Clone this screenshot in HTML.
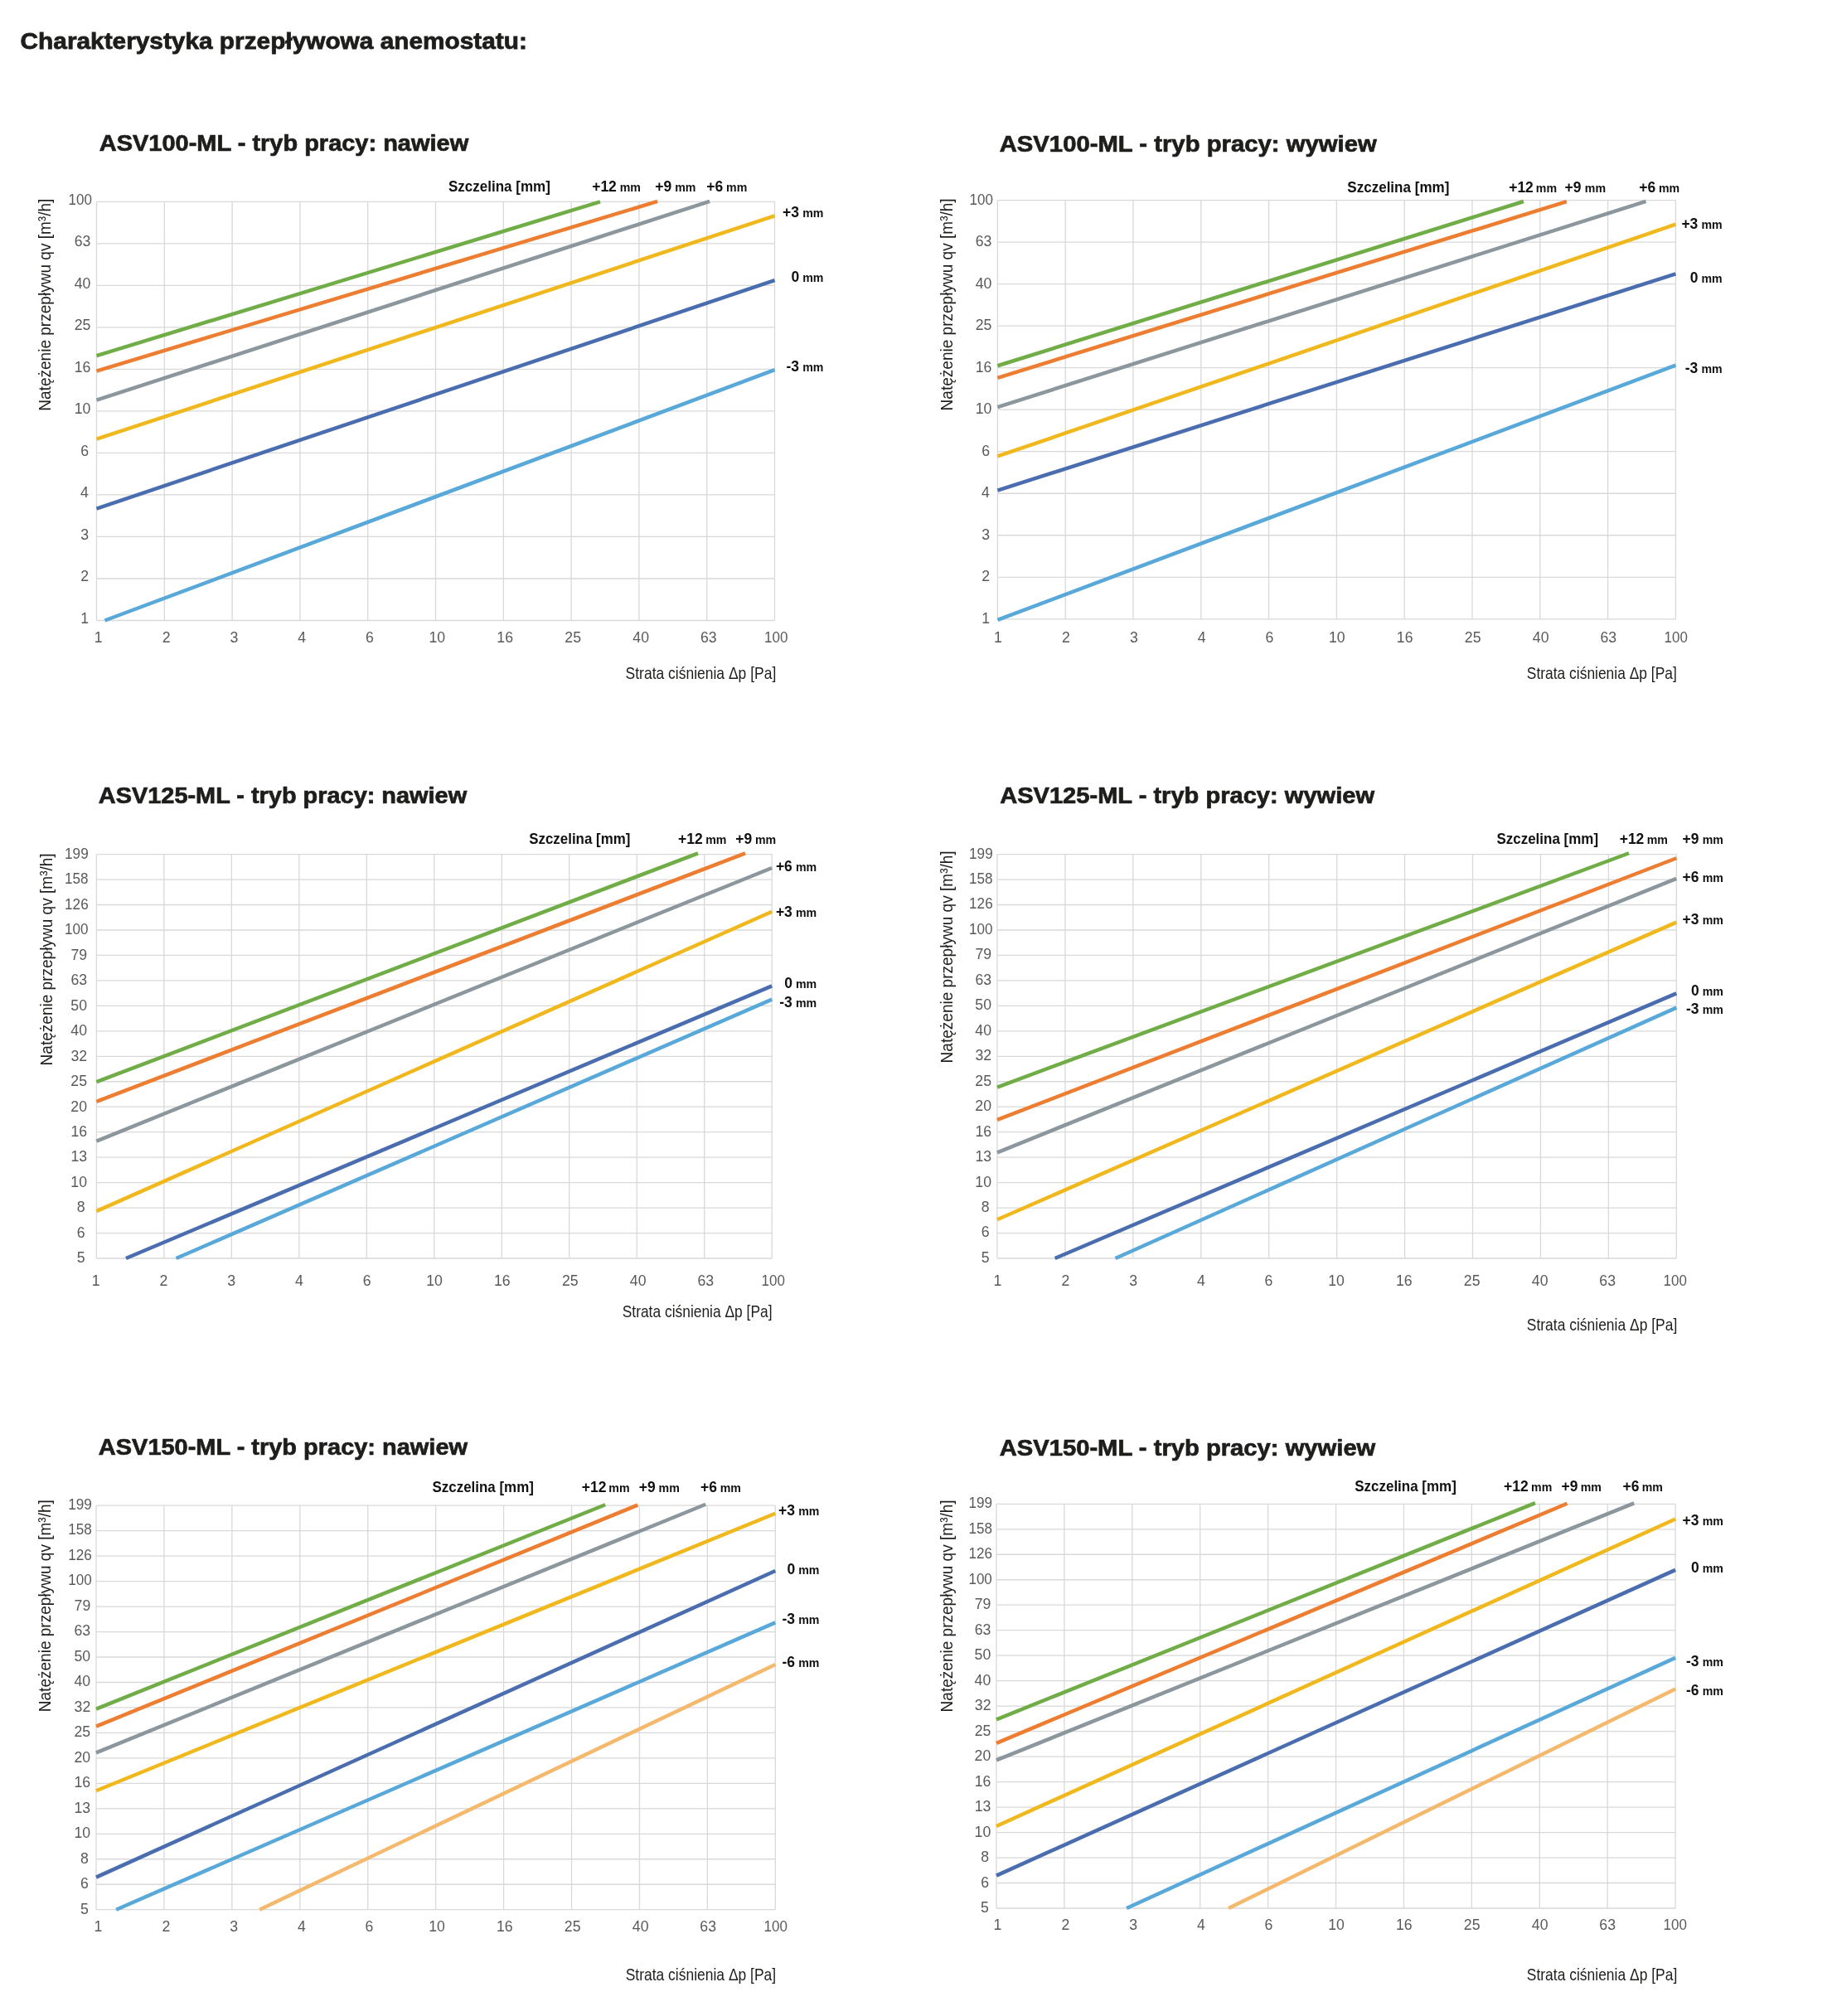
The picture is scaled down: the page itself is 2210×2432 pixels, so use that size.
<!DOCTYPE html><html><head><meta charset="utf-8"><title>Charakterystyka przepływowa anemostatu</title>
<style>html,body{margin:0;padding:0;background:#fff}body{width:2210px;height:2432px;overflow:hidden}svg{display:block;will-change:transform}text{font-family:'Liberation Sans', sans-serif}</style></head><body>
<svg xmlns="http://www.w3.org/2000/svg" width="2210" height="2432" viewBox="0 0 2210 2432">
<rect width="2210" height="2432" fill="#fff"/>
<text x="24.58" y="58.5" font-size="28.4" font-weight="bold" fill="#1d1d1b" textLength="611.29" lengthAdjust="spacingAndGlyphs" stroke="#1d1d1b" stroke-width="0.8">Charakterystyka przepływowa anemostatu:</text>
<path d="M116.5 243.3V748.5M198.3 243.3V748.5M280.1 243.3V748.5M361.9 243.3V748.5M443.7 243.3V748.5M525.5 243.3V748.5M607.3 243.3V748.5M689.1 243.3V748.5M770.9 243.3V748.5M852.7 243.3V748.5M934.5 243.3V748.5M116.5 243.3H934.5M116.5 293.82H934.5M116.5 344.34H934.5M116.5 394.86H934.5M116.5 445.38H934.5M116.5 495.9H934.5M116.5 546.42H934.5M116.5 596.94H934.5M116.5 647.46H934.5M116.5 697.98H934.5M116.5 748.5H934.5" stroke="#d9d9d9" stroke-width="1.3" fill="none"/>
<text x="82.5" y="246.8" font-size="17.7" fill="#595959" textLength="28.47" lengthAdjust="spacingAndGlyphs">100</text>
<text x="89.79" y="297.32" font-size="17.7" fill="#595959">63</text>
<text x="89.7" y="347.84" font-size="17.7" fill="#595959">40</text>
<text x="89.76" y="398.36" font-size="17.7" fill="#595959">25</text>
<text x="89.79" y="448.88" font-size="17.7" fill="#595959">16</text>
<text x="89.7" y="499.4" font-size="17.7" fill="#595959">10</text>
<text x="97.23" y="549.92" font-size="17.7" fill="#595959">6</text>
<text x="96.97" y="600.44" font-size="17.7" fill="#595959">4</text>
<text x="97.23" y="650.96" font-size="17.7" fill="#595959">3</text>
<text x="97.35" y="701.48" font-size="17.7" fill="#595959">2</text>
<text x="97.32" y="752" font-size="17.7" fill="#595959">1</text>
<text x="113.64" y="775.1" font-size="17.7" fill="#595959">1</text>
<text x="195.66" y="775.1" font-size="17.7" fill="#595959">2</text>
<text x="277.49" y="775.1" font-size="17.7" fill="#595959">3</text>
<text x="359.27" y="775.1" font-size="17.7" fill="#595959">4</text>
<text x="440.94" y="775.1" font-size="17.7" fill="#595959">6</text>
<text x="517.53" y="775.1" font-size="17.7" fill="#595959">10</text>
<text x="599.35" y="775.1" font-size="17.7" fill="#595959">16</text>
<text x="681.34" y="775.1" font-size="17.7" fill="#595959">25</text>
<text x="763.34" y="775.1" font-size="17.7" fill="#595959">40</text>
<text x="844.92" y="775.1" font-size="17.7" fill="#595959">63</text>
<text x="922.11" y="775.1" font-size="17.7" fill="#595959" textLength="28.36" lengthAdjust="spacingAndGlyphs">100</text>
<line x1="126.43" y1="748.5" x2="934.5" y2="446.23" stroke="#58a8da" stroke-width="4.5"/>
<line x1="116.5" y1="613.53" x2="934.5" y2="338.12" stroke="#4a6db0" stroke-width="4.5"/>
<line x1="116.5" y1="529.72" x2="934.5" y2="260.43" stroke="#f1b81e" stroke-width="4.5"/>
<line x1="116.5" y1="482.62" x2="856.1" y2="242.82" stroke="#8c969d" stroke-width="4.5"/>
<line x1="116.5" y1="447.6" x2="793.1" y2="242.95" stroke="#ed7d31" stroke-width="4.5"/>
<line x1="116.5" y1="429.09" x2="724" y2="243.29" stroke="#70ad47" stroke-width="4.5"/>
<text x="119.78" y="182.4" font-size="27.3" font-weight="bold" fill="#1d1d1b" textLength="445.46" lengthAdjust="spacingAndGlyphs" stroke="#1d1d1b" stroke-width="0.7">ASV100-ML - tryb pracy: nawiew</text>
<text x="541.01" y="231.1" font-size="17.9" font-weight="bold" fill="#111111" textLength="122.84" lengthAdjust="spacingAndGlyphs">Szczelina [mm]</text>
<text x="714.17" y="231" font-size="17.5" font-weight="bold" fill="#111111">+12</text>
<text x="747.67" y="231" font-size="15.3" font-weight="bold" fill="#111111" textLength="25.21" lengthAdjust="spacingAndGlyphs">mm</text>
<text x="790.37" y="231" font-size="17.5" font-weight="bold" fill="#111111">+9</text>
<text x="814.17" y="231" font-size="15.3" font-weight="bold" fill="#111111" textLength="25.21" lengthAdjust="spacingAndGlyphs">mm</text>
<text x="852.27" y="231" font-size="17.5" font-weight="bold" fill="#111111">+6</text>
<text x="876.07" y="231" font-size="15.3" font-weight="bold" fill="#111111" textLength="25.21" lengthAdjust="spacingAndGlyphs">mm</text>
<text x="944.08" y="262.2" font-size="17.5" font-weight="bold" fill="#111111">+3</text>
<text x="968.17" y="262.2" font-size="15.3" font-weight="bold" fill="#111111" textLength="25.21" lengthAdjust="spacingAndGlyphs">mm</text>
<text x="954.39" y="339.7" font-size="17.5" font-weight="bold" fill="#111111">0</text>
<text x="968.17" y="339.7" font-size="15.3" font-weight="bold" fill="#111111" textLength="25.21" lengthAdjust="spacingAndGlyphs">mm</text>
<text x="948.47" y="447.7" font-size="17.5" font-weight="bold" fill="#111111">-3</text>
<text x="968.17" y="447.7" font-size="15.3" font-weight="bold" fill="#111111" textLength="25.21" lengthAdjust="spacingAndGlyphs">mm</text>
<text transform="translate(61 494.2) rotate(-90)" x="-1.56" y="0" font-size="21" fill="#1d1d1b" textLength="256.12" lengthAdjust="spacingAndGlyphs">Natężenie przepływu qv [m³/h]</text>
<text x="754.61" y="819" font-size="19.8" fill="#1d1d1b" textLength="181.64" lengthAdjust="spacingAndGlyphs">Strata ciśnienia Δp [Pa]</text>
<path d="M1203.4 241.6V746.8M1285.2 241.6V746.8M1367 241.6V746.8M1448.8 241.6V746.8M1530.6 241.6V746.8M1612.4 241.6V746.8M1694.2 241.6V746.8M1776 241.6V746.8M1857.8 241.6V746.8M1939.6 241.6V746.8M2021.4 241.6V746.8M1203.4 241.6H2021.4M1203.4 292.12H2021.4M1203.4 342.64H2021.4M1203.4 393.16H2021.4M1203.4 443.68H2021.4M1203.4 494.2H2021.4M1203.4 544.72H2021.4M1203.4 595.24H2021.4M1203.4 645.76H2021.4M1203.4 696.28H2021.4M1203.4 746.8H2021.4" stroke="#d9d9d9" stroke-width="1.3" fill="none"/>
<text x="1169.5" y="246.5" font-size="17.7" fill="#595959" textLength="28.47" lengthAdjust="spacingAndGlyphs">100</text>
<text x="1176.79" y="297.02" font-size="17.7" fill="#595959">63</text>
<text x="1176.7" y="347.54" font-size="17.7" fill="#595959">40</text>
<text x="1176.76" y="398.06" font-size="17.7" fill="#595959">25</text>
<text x="1176.79" y="448.58" font-size="17.7" fill="#595959">16</text>
<text x="1176.7" y="499.1" font-size="17.7" fill="#595959">10</text>
<text x="1184.23" y="549.62" font-size="17.7" fill="#595959">6</text>
<text x="1183.97" y="600.14" font-size="17.7" fill="#595959">4</text>
<text x="1184.23" y="650.66" font-size="17.7" fill="#595959">3</text>
<text x="1184.35" y="701.18" font-size="17.7" fill="#595959">2</text>
<text x="1184.32" y="751.7" font-size="17.7" fill="#595959">1</text>
<text x="1199.04" y="775" font-size="17.7" fill="#595959">1</text>
<text x="1281.07" y="775" font-size="17.7" fill="#595959">2</text>
<text x="1362.91" y="775" font-size="17.7" fill="#595959">3</text>
<text x="1444.7" y="775" font-size="17.7" fill="#595959">4</text>
<text x="1526.38" y="775" font-size="17.7" fill="#595959">6</text>
<text x="1602.98" y="775" font-size="17.7" fill="#595959">10</text>
<text x="1684.81" y="775" font-size="17.7" fill="#595959">16</text>
<text x="1766.81" y="775" font-size="17.7" fill="#595959">25</text>
<text x="1848.82" y="775" font-size="17.7" fill="#595959">40</text>
<text x="1930.41" y="775" font-size="17.7" fill="#595959">63</text>
<text x="2007.61" y="775" font-size="17.7" fill="#595959" textLength="28.36" lengthAdjust="spacingAndGlyphs">100</text>
<line x1="1203.4" y1="747.94" x2="2021.4" y2="440.68" stroke="#58a8da" stroke-width="4.5"/>
<line x1="1203.4" y1="591.56" x2="2021.4" y2="330.48" stroke="#4a6db0" stroke-width="4.5"/>
<line x1="1203.4" y1="550.48" x2="2021.4" y2="270.58" stroke="#f1b81e" stroke-width="4.5"/>
<line x1="1203.4" y1="491.04" x2="1985.5" y2="242.91" stroke="#8c969d" stroke-width="4.5"/>
<line x1="1203.4" y1="455.79" x2="1889.9" y2="243.12" stroke="#ed7d31" stroke-width="4.5"/>
<line x1="1203.4" y1="441.24" x2="1837.9" y2="243.02" stroke="#70ad47" stroke-width="4.5"/>
<text x="1205.67" y="182.8" font-size="27.3" font-weight="bold" fill="#1d1d1b" textLength="455.07" lengthAdjust="spacingAndGlyphs" stroke="#1d1d1b" stroke-width="0.7">ASV100-ML - tryb pracy: wywiew</text>
<text x="1625.31" y="232.4" font-size="17.9" font-weight="bold" fill="#111111" textLength="123.05" lengthAdjust="spacingAndGlyphs">Szczelina [mm]</text>
<text x="1820.17" y="232.4" font-size="17.5" font-weight="bold" fill="#111111">+12</text>
<text x="1852.87" y="232.4" font-size="15.3" font-weight="bold" fill="#111111" textLength="25.21" lengthAdjust="spacingAndGlyphs">mm</text>
<text x="1887.47" y="232.4" font-size="17.5" font-weight="bold" fill="#111111">+9</text>
<text x="1911.87" y="232.4" font-size="15.3" font-weight="bold" fill="#111111" textLength="25.21" lengthAdjust="spacingAndGlyphs">mm</text>
<text x="1977.37" y="232.4" font-size="17.5" font-weight="bold" fill="#111111">+6</text>
<text x="2000.97" y="232.4" font-size="15.3" font-weight="bold" fill="#111111" textLength="25.21" lengthAdjust="spacingAndGlyphs">mm</text>
<text x="2028.38" y="275.5" font-size="17.5" font-weight="bold" fill="#111111">+3</text>
<text x="2052.47" y="275.5" font-size="15.3" font-weight="bold" fill="#111111" textLength="25.21" lengthAdjust="spacingAndGlyphs">mm</text>
<text x="2038.69" y="340.8" font-size="17.5" font-weight="bold" fill="#111111">0</text>
<text x="2052.47" y="340.8" font-size="15.3" font-weight="bold" fill="#111111" textLength="25.21" lengthAdjust="spacingAndGlyphs">mm</text>
<text x="2032.77" y="449.6" font-size="17.5" font-weight="bold" fill="#111111">-3</text>
<text x="2052.47" y="449.6" font-size="15.3" font-weight="bold" fill="#111111" textLength="25.21" lengthAdjust="spacingAndGlyphs">mm</text>
<text transform="translate(1149 493.9) rotate(-90)" x="-1.56" y="0" font-size="21" fill="#1d1d1b" textLength="256.12" lengthAdjust="spacingAndGlyphs">Natężenie przepływu qv [m³/h]</text>
<text x="1841.81" y="819" font-size="19.8" fill="#1d1d1b" textLength="181.03" lengthAdjust="spacingAndGlyphs">Strata ciśnienia Δp [Pa]</text>
<path d="M116.4 1030.6V1518M197.88 1030.6V1518M279.36 1030.6V1518M360.84 1030.6V1518M442.32 1030.6V1518M523.8 1030.6V1518M605.28 1030.6V1518M686.76 1030.6V1518M768.24 1030.6V1518M849.72 1030.6V1518M931.2 1030.6V1518M116.4 1030.6H931.2M116.4 1061.06H931.2M116.4 1091.52H931.2M116.4 1121.99H931.2M116.4 1152.45H931.2M116.4 1182.91H931.2M116.4 1213.38H931.2M116.4 1243.84H931.2M116.4 1274.3H931.2M116.4 1304.76H931.2M116.4 1335.22H931.2M116.4 1365.69H931.2M116.4 1396.15H931.2M116.4 1426.61H931.2M116.4 1457.08H931.2M116.4 1487.54H931.2M116.4 1518H931.2" stroke="#d9d9d9" stroke-width="1.3" fill="none"/>
<text x="78.09" y="1035.9" font-size="17.7" fill="#595959" textLength="28.62" lengthAdjust="spacingAndGlyphs">199</text>
<text x="78.1" y="1066.36" font-size="17.7" fill="#595959" textLength="28.55" lengthAdjust="spacingAndGlyphs">158</text>
<text x="78.1" y="1096.82" font-size="17.7" fill="#595959" textLength="28.56" lengthAdjust="spacingAndGlyphs">126</text>
<text x="78.1" y="1127.29" font-size="17.7" fill="#595959" textLength="28.47" lengthAdjust="spacingAndGlyphs">100</text>
<text x="85.45" y="1157.75" font-size="17.7" fill="#595959">79</text>
<text x="85.39" y="1188.21" font-size="17.7" fill="#595959">63</text>
<text x="85.3" y="1218.67" font-size="17.7" fill="#595959">50</text>
<text x="85.3" y="1249.14" font-size="17.7" fill="#595959">40</text>
<text x="85.5" y="1279.6" font-size="17.7" fill="#595959">32</text>
<text x="85.36" y="1310.06" font-size="17.7" fill="#595959">25</text>
<text x="85.3" y="1340.52" font-size="17.7" fill="#595959">20</text>
<text x="85.39" y="1370.99" font-size="17.7" fill="#595959">16</text>
<text x="85.39" y="1401.45" font-size="17.7" fill="#595959">13</text>
<text x="85.3" y="1431.91" font-size="17.7" fill="#595959">10</text>
<text x="92.83" y="1462.38" font-size="17.7" fill="#595959">8</text>
<text x="92.83" y="1492.84" font-size="17.7" fill="#595959">6</text>
<text x="92.8" y="1523.3" font-size="17.7" fill="#595959">5</text>
<text x="110.64" y="1551.2" font-size="17.7" fill="#595959">1</text>
<text x="192.6" y="1551.2" font-size="17.7" fill="#595959">2</text>
<text x="274.37" y="1551.2" font-size="17.7" fill="#595959">3</text>
<text x="356.09" y="1551.2" font-size="17.7" fill="#595959">4</text>
<text x="437.7" y="1551.2" font-size="17.7" fill="#595959">6</text>
<text x="514.23" y="1551.2" font-size="17.7" fill="#595959">10</text>
<text x="595.99" y="1551.2" font-size="17.7" fill="#595959">16</text>
<text x="677.92" y="1551.2" font-size="17.7" fill="#595959">25</text>
<text x="759.86" y="1551.2" font-size="17.7" fill="#595959">40</text>
<text x="841.38" y="1551.2" font-size="17.7" fill="#595959">63</text>
<text x="918.51" y="1551.2" font-size="17.7" fill="#595959" textLength="28.36" lengthAdjust="spacingAndGlyphs">100</text>
<line x1="212.54" y1="1518" x2="931.2" y2="1205.65" stroke="#58a8da" stroke-width="4.5"/>
<line x1="151.93" y1="1518" x2="931.2" y2="1189.32" stroke="#4a6db0" stroke-width="4.5"/>
<line x1="116.4" y1="1461.17" x2="931.2" y2="1099.81" stroke="#f1b81e" stroke-width="4.5"/>
<line x1="116.4" y1="1376.62" x2="931.2" y2="1046.99" stroke="#8c969d" stroke-width="4.5"/>
<line x1="116.4" y1="1328.92" x2="899" y2="1029.31" stroke="#ed7d31" stroke-width="4.5"/>
<line x1="116.4" y1="1305.18" x2="842" y2="1029.33" stroke="#70ad47" stroke-width="4.5"/>
<text x="118.88" y="969.3" font-size="27.3" font-weight="bold" fill="#1d1d1b" textLength="444.26" lengthAdjust="spacingAndGlyphs" stroke="#1d1d1b" stroke-width="0.7">ASV125-ML - tryb pracy: nawiew</text>
<text x="638.21" y="1018.2" font-size="17.9" font-weight="bold" fill="#111111" textLength="122.14" lengthAdjust="spacingAndGlyphs">Szczelina [mm]</text>
<text x="817.97" y="1018.2" font-size="17.5" font-weight="bold" fill="#111111">+12</text>
<text x="851.17" y="1018.2" font-size="15.3" font-weight="bold" fill="#111111" textLength="25.21" lengthAdjust="spacingAndGlyphs">mm</text>
<text x="887.27" y="1018.2" font-size="17.5" font-weight="bold" fill="#111111">+9</text>
<text x="910.97" y="1018.2" font-size="15.3" font-weight="bold" fill="#111111" textLength="25.21" lengthAdjust="spacingAndGlyphs">mm</text>
<text x="935.88" y="1051" font-size="17.5" font-weight="bold" fill="#111111">+6</text>
<text x="959.97" y="1051" font-size="15.3" font-weight="bold" fill="#111111" textLength="25.21" lengthAdjust="spacingAndGlyphs">mm</text>
<text x="935.88" y="1106.1" font-size="17.5" font-weight="bold" fill="#111111">+3</text>
<text x="959.97" y="1106.1" font-size="15.3" font-weight="bold" fill="#111111" textLength="25.21" lengthAdjust="spacingAndGlyphs">mm</text>
<text x="946.19" y="1192.1" font-size="17.5" font-weight="bold" fill="#111111">0</text>
<text x="959.97" y="1192.1" font-size="15.3" font-weight="bold" fill="#111111" textLength="25.21" lengthAdjust="spacingAndGlyphs">mm</text>
<text x="940.27" y="1214.6" font-size="17.5" font-weight="bold" fill="#111111">-3</text>
<text x="959.97" y="1214.6" font-size="15.3" font-weight="bold" fill="#111111" textLength="25.21" lengthAdjust="spacingAndGlyphs">mm</text>
<text transform="translate(62.9 1283.9) rotate(-90)" x="-1.56" y="0" font-size="21" fill="#1d1d1b" textLength="256.12" lengthAdjust="spacingAndGlyphs">Natężenie przepływu qv [m³/h]</text>
<text x="750.71" y="1588.5" font-size="19.8" fill="#1d1d1b" textLength="180.83" lengthAdjust="spacingAndGlyphs">Strata ciśnienia Δp [Pa]</text>
<path d="M1203 1030.6V1518M1284.93 1030.6V1518M1366.86 1030.6V1518M1448.79 1030.6V1518M1530.72 1030.6V1518M1612.65 1030.6V1518M1694.58 1030.6V1518M1776.51 1030.6V1518M1858.44 1030.6V1518M1940.37 1030.6V1518M2022.3 1030.6V1518M1203 1030.6H2022.3M1203 1061.06H2022.3M1203 1091.52H2022.3M1203 1121.99H2022.3M1203 1152.45H2022.3M1203 1182.91H2022.3M1203 1213.38H2022.3M1203 1243.84H2022.3M1203 1274.3H2022.3M1203 1304.76H2022.3M1203 1335.22H2022.3M1203 1365.69H2022.3M1203 1396.15H2022.3M1203 1426.61H2022.3M1203 1457.08H2022.3M1203 1487.54H2022.3M1203 1518H2022.3" stroke="#d9d9d9" stroke-width="1.3" fill="none"/>
<text x="1169.09" y="1035.5" font-size="17.7" fill="#595959" textLength="28.62" lengthAdjust="spacingAndGlyphs">199</text>
<text x="1169.1" y="1065.96" font-size="17.7" fill="#595959" textLength="28.55" lengthAdjust="spacingAndGlyphs">158</text>
<text x="1169.1" y="1096.42" font-size="17.7" fill="#595959" textLength="28.56" lengthAdjust="spacingAndGlyphs">126</text>
<text x="1169.1" y="1126.89" font-size="17.7" fill="#595959" textLength="28.47" lengthAdjust="spacingAndGlyphs">100</text>
<text x="1176.45" y="1157.35" font-size="17.7" fill="#595959">79</text>
<text x="1176.39" y="1187.81" font-size="17.7" fill="#595959">63</text>
<text x="1176.3" y="1218.28" font-size="17.7" fill="#595959">50</text>
<text x="1176.3" y="1248.74" font-size="17.7" fill="#595959">40</text>
<text x="1176.5" y="1279.2" font-size="17.7" fill="#595959">32</text>
<text x="1176.36" y="1309.66" font-size="17.7" fill="#595959">25</text>
<text x="1176.3" y="1340.12" font-size="17.7" fill="#595959">20</text>
<text x="1176.39" y="1370.59" font-size="17.7" fill="#595959">16</text>
<text x="1176.39" y="1401.05" font-size="17.7" fill="#595959">13</text>
<text x="1176.3" y="1431.51" font-size="17.7" fill="#595959">10</text>
<text x="1183.83" y="1461.98" font-size="17.7" fill="#595959">8</text>
<text x="1183.83" y="1492.44" font-size="17.7" fill="#595959">6</text>
<text x="1183.8" y="1522.9" font-size="17.7" fill="#595959">5</text>
<text x="1198.44" y="1551.1" font-size="17.7" fill="#595959">1</text>
<text x="1280.42" y="1551.1" font-size="17.7" fill="#595959">2</text>
<text x="1362.21" y="1551.1" font-size="17.7" fill="#595959">3</text>
<text x="1443.95" y="1551.1" font-size="17.7" fill="#595959">4</text>
<text x="1525.58" y="1551.1" font-size="17.7" fill="#595959">6</text>
<text x="1602.13" y="1551.1" font-size="17.7" fill="#595959">10</text>
<text x="1683.91" y="1551.1" font-size="17.7" fill="#595959">16</text>
<text x="1765.86" y="1551.1" font-size="17.7" fill="#595959">25</text>
<text x="1847.82" y="1551.1" font-size="17.7" fill="#595959">40</text>
<text x="1929.36" y="1551.1" font-size="17.7" fill="#595959">63</text>
<text x="2006.51" y="1551.1" font-size="17.7" fill="#595959" textLength="28.36" lengthAdjust="spacingAndGlyphs">100</text>
<line x1="1345.56" y1="1518" x2="2022.3" y2="1215.66" stroke="#58a8da" stroke-width="4.5"/>
<line x1="1272.66" y1="1518" x2="2022.3" y2="1198.33" stroke="#4a6db0" stroke-width="4.5"/>
<line x1="1203" y1="1471.3" x2="2022.3" y2="1112.62" stroke="#f1b81e" stroke-width="4.5"/>
<line x1="1203" y1="1390.32" x2="2022.3" y2="1059.81" stroke="#8c969d" stroke-width="4.5"/>
<line x1="1203" y1="1350.91" x2="2022.3" y2="1035.25" stroke="#ed7d31" stroke-width="4.5"/>
<line x1="1203" y1="1311.52" x2="1965" y2="1029.26" stroke="#70ad47" stroke-width="4.5"/>
<text x="1206.18" y="969.1" font-size="27.3" font-weight="bold" fill="#1d1d1b" textLength="451.87" lengthAdjust="spacingAndGlyphs" stroke="#1d1d1b" stroke-width="0.7">ASV125-ML - tryb pracy: wywiew</text>
<text x="1805.41" y="1017.9" font-size="17.9" font-weight="bold" fill="#111111" textLength="122.64" lengthAdjust="spacingAndGlyphs">Szczelina [mm]</text>
<text x="1953.67" y="1017.9" font-size="17.5" font-weight="bold" fill="#111111">+12</text>
<text x="1986.77" y="1017.9" font-size="15.3" font-weight="bold" fill="#111111" textLength="25.21" lengthAdjust="spacingAndGlyphs">mm</text>
<text x="2029.6" y="1017.9" font-size="17.5" font-weight="bold" fill="#111111">+9</text>
<text x="2053.67" y="1017.9" font-size="15.3" font-weight="bold" fill="#111111" textLength="25.21" lengthAdjust="spacingAndGlyphs">mm</text>
<text x="2029.58" y="1064.4" font-size="17.5" font-weight="bold" fill="#111111">+6</text>
<text x="2053.67" y="1064.4" font-size="15.3" font-weight="bold" fill="#111111" textLength="25.21" lengthAdjust="spacingAndGlyphs">mm</text>
<text x="2029.58" y="1114.8" font-size="17.5" font-weight="bold" fill="#111111">+3</text>
<text x="2053.67" y="1114.8" font-size="15.3" font-weight="bold" fill="#111111" textLength="25.21" lengthAdjust="spacingAndGlyphs">mm</text>
<text x="2039.89" y="1200.5" font-size="17.5" font-weight="bold" fill="#111111">0</text>
<text x="2053.67" y="1200.5" font-size="15.3" font-weight="bold" fill="#111111" textLength="25.21" lengthAdjust="spacingAndGlyphs">mm</text>
<text x="2033.97" y="1222.6" font-size="17.5" font-weight="bold" fill="#111111">-3</text>
<text x="2053.67" y="1222.6" font-size="15.3" font-weight="bold" fill="#111111" textLength="25.21" lengthAdjust="spacingAndGlyphs">mm</text>
<text transform="translate(1149 1280.9) rotate(-90)" x="-1.56" y="0" font-size="21" fill="#1d1d1b" textLength="256.12" lengthAdjust="spacingAndGlyphs">Natężenie przepływu qv [m³/h]</text>
<text x="1841.81" y="1605.2" font-size="19.8" fill="#1d1d1b" textLength="181.44" lengthAdjust="spacingAndGlyphs">Strata ciśnienia Δp [Pa]</text>
<path d="M116 1816.2V2303.7M197.93 1816.2V2303.7M279.86 1816.2V2303.7M361.79 1816.2V2303.7M443.72 1816.2V2303.7M525.65 1816.2V2303.7M607.58 1816.2V2303.7M689.51 1816.2V2303.7M771.44 1816.2V2303.7M853.37 1816.2V2303.7M935.3 1816.2V2303.7M116 1816.2H935.3M116 1846.67H935.3M116 1877.14H935.3M116 1907.61H935.3M116 1938.08H935.3M116 1968.54H935.3M116 1999.01H935.3M116 2029.48H935.3M116 2059.95H935.3M116 2090.42H935.3M116 2120.89H935.3M116 2151.36H935.3M116 2181.82H935.3M116 2212.29H935.3M116 2242.76H935.3M116 2273.23H935.3M116 2303.7H935.3" stroke="#d9d9d9" stroke-width="1.3" fill="none"/>
<text x="82.19" y="1821" font-size="17.7" fill="#595959" textLength="28.62" lengthAdjust="spacingAndGlyphs">199</text>
<text x="82.2" y="1851.47" font-size="17.7" fill="#595959" textLength="28.55" lengthAdjust="spacingAndGlyphs">158</text>
<text x="82.2" y="1881.94" font-size="17.7" fill="#595959" textLength="28.56" lengthAdjust="spacingAndGlyphs">126</text>
<text x="82.2" y="1912.41" font-size="17.7" fill="#595959" textLength="28.47" lengthAdjust="spacingAndGlyphs">100</text>
<text x="89.55" y="1942.88" font-size="17.7" fill="#595959">79</text>
<text x="89.49" y="1973.34" font-size="17.7" fill="#595959">63</text>
<text x="89.4" y="2003.81" font-size="17.7" fill="#595959">50</text>
<text x="89.4" y="2034.28" font-size="17.7" fill="#595959">40</text>
<text x="89.6" y="2064.75" font-size="17.7" fill="#595959">32</text>
<text x="89.46" y="2095.22" font-size="17.7" fill="#595959">25</text>
<text x="89.4" y="2125.69" font-size="17.7" fill="#595959">20</text>
<text x="89.49" y="2156.16" font-size="17.7" fill="#595959">16</text>
<text x="89.49" y="2186.62" font-size="17.7" fill="#595959">13</text>
<text x="89.4" y="2217.09" font-size="17.7" fill="#595959">10</text>
<text x="96.93" y="2247.56" font-size="17.7" fill="#595959">8</text>
<text x="96.93" y="2278.03" font-size="17.7" fill="#595959">6</text>
<text x="96.9" y="2308.5" font-size="17.7" fill="#595959">5</text>
<text x="113.44" y="2329.7" font-size="17.7" fill="#595959">1</text>
<text x="195.42" y="2329.7" font-size="17.7" fill="#595959">2</text>
<text x="277.21" y="2329.7" font-size="17.7" fill="#595959">3</text>
<text x="358.95" y="2329.7" font-size="17.7" fill="#595959">4</text>
<text x="440.58" y="2329.7" font-size="17.7" fill="#595959">6</text>
<text x="517.13" y="2329.7" font-size="17.7" fill="#595959">10</text>
<text x="598.91" y="2329.7" font-size="17.7" fill="#595959">16</text>
<text x="680.86" y="2329.7" font-size="17.7" fill="#595959">25</text>
<text x="762.82" y="2329.7" font-size="17.7" fill="#595959">40</text>
<text x="844.36" y="2329.7" font-size="17.7" fill="#595959">63</text>
<text x="921.51" y="2329.7" font-size="17.7" fill="#595959" textLength="28.36" lengthAdjust="spacingAndGlyphs">100</text>
<line x1="313.16" y1="2303.7" x2="935.3" y2="2007.92" stroke="#f5b96e" stroke-width="4.5"/>
<line x1="140.14" y1="2303.7" x2="935.3" y2="1957.41" stroke="#58a8da" stroke-width="4.5"/>
<line x1="116" y1="2264.64" x2="935.3" y2="1895" stroke="#4a6db0" stroke-width="4.5"/>
<line x1="116" y1="2160.28" x2="935.3" y2="1825.79" stroke="#f1b81e" stroke-width="4.5"/>
<line x1="116" y1="2114.39" x2="851.2" y2="1814.71" stroke="#8c969d" stroke-width="4.5"/>
<line x1="116" y1="2082.66" x2="769.3" y2="1815.56" stroke="#ed7d31" stroke-width="4.5"/>
<line x1="116" y1="2061.55" x2="730.1" y2="1815.23" stroke="#70ad47" stroke-width="4.5"/>
<text x="118.88" y="1755.4" font-size="27.3" font-weight="bold" fill="#1d1d1b" textLength="445.16" lengthAdjust="spacingAndGlyphs" stroke="#1d1d1b" stroke-width="0.7">ASV150-ML - tryb pracy: nawiew</text>
<text x="521.51" y="1800.2" font-size="17.9" font-weight="bold" fill="#111111" textLength="122.34" lengthAdjust="spacingAndGlyphs">Szczelina [mm]</text>
<text x="701.87" y="1800.2" font-size="17.5" font-weight="bold" fill="#111111">+12</text>
<text x="734.37" y="1800.2" font-size="15.3" font-weight="bold" fill="#111111" textLength="25.21" lengthAdjust="spacingAndGlyphs">mm</text>
<text x="770.87" y="1800.2" font-size="17.5" font-weight="bold" fill="#111111">+9</text>
<text x="794.57" y="1800.2" font-size="15.3" font-weight="bold" fill="#111111" textLength="25.21" lengthAdjust="spacingAndGlyphs">mm</text>
<text x="844.97" y="1800.2" font-size="17.5" font-weight="bold" fill="#111111">+6</text>
<text x="868.67" y="1800.2" font-size="15.3" font-weight="bold" fill="#111111" textLength="25.21" lengthAdjust="spacingAndGlyphs">mm</text>
<text x="939.08" y="1828.1" font-size="17.5" font-weight="bold" fill="#111111">+3</text>
<text x="963.17" y="1828.1" font-size="15.3" font-weight="bold" fill="#111111" textLength="25.21" lengthAdjust="spacingAndGlyphs">mm</text>
<text x="949.39" y="1898.6" font-size="17.5" font-weight="bold" fill="#111111">0</text>
<text x="963.17" y="1898.6" font-size="15.3" font-weight="bold" fill="#111111" textLength="25.21" lengthAdjust="spacingAndGlyphs">mm</text>
<text x="943.47" y="1959.1" font-size="17.5" font-weight="bold" fill="#111111">-3</text>
<text x="963.17" y="1959.1" font-size="15.3" font-weight="bold" fill="#111111" textLength="25.21" lengthAdjust="spacingAndGlyphs">mm</text>
<text x="943.47" y="2010.6" font-size="17.5" font-weight="bold" fill="#111111">-6</text>
<text x="963.17" y="2010.6" font-size="15.3" font-weight="bold" fill="#111111" textLength="25.21" lengthAdjust="spacingAndGlyphs">mm</text>
<text transform="translate(60.8 2063.7) rotate(-90)" x="-1.56" y="0" font-size="21" fill="#1d1d1b" textLength="256.12" lengthAdjust="spacingAndGlyphs">Natężenie przepływu qv [m³/h]</text>
<text x="754.71" y="2388.5" font-size="19.8" fill="#1d1d1b" textLength="181.44" lengthAdjust="spacingAndGlyphs">Strata ciśnienia Δp [Pa]</text>
<path d="M1202 1814.3V2302M1283.91 1814.3V2302M1365.82 1814.3V2302M1447.73 1814.3V2302M1529.64 1814.3V2302M1611.55 1814.3V2302M1693.46 1814.3V2302M1775.37 1814.3V2302M1857.28 1814.3V2302M1939.19 1814.3V2302M2021.1 1814.3V2302M1202 1814.3H2021.1M1202 1844.78H2021.1M1202 1875.26H2021.1M1202 1905.74H2021.1M1202 1936.22H2021.1M1202 1966.71H2021.1M1202 1997.19H2021.1M1202 2027.67H2021.1M1202 2058.15H2021.1M1202 2088.63H2021.1M1202 2119.11H2021.1M1202 2149.59H2021.1M1202 2180.07H2021.1M1202 2210.56H2021.1M1202 2241.04H2021.1M1202 2271.52H2021.1M1202 2302H2021.1" stroke="#d9d9d9" stroke-width="1.3" fill="none"/>
<text x="1168.39" y="1819.4" font-size="17.7" fill="#595959" textLength="28.62" lengthAdjust="spacingAndGlyphs">199</text>
<text x="1168.4" y="1849.88" font-size="17.7" fill="#595959" textLength="28.55" lengthAdjust="spacingAndGlyphs">158</text>
<text x="1168.4" y="1880.36" font-size="17.7" fill="#595959" textLength="28.56" lengthAdjust="spacingAndGlyphs">126</text>
<text x="1168.4" y="1910.84" font-size="17.7" fill="#595959" textLength="28.47" lengthAdjust="spacingAndGlyphs">100</text>
<text x="1175.75" y="1941.32" font-size="17.7" fill="#595959">79</text>
<text x="1175.69" y="1971.81" font-size="17.7" fill="#595959">63</text>
<text x="1175.6" y="2002.29" font-size="17.7" fill="#595959">50</text>
<text x="1175.6" y="2032.77" font-size="17.7" fill="#595959">40</text>
<text x="1175.8" y="2063.25" font-size="17.7" fill="#595959">32</text>
<text x="1175.66" y="2093.73" font-size="17.7" fill="#595959">25</text>
<text x="1175.6" y="2124.21" font-size="17.7" fill="#595959">20</text>
<text x="1175.69" y="2154.69" font-size="17.7" fill="#595959">16</text>
<text x="1175.69" y="2185.17" font-size="17.7" fill="#595959">13</text>
<text x="1175.6" y="2215.66" font-size="17.7" fill="#595959">10</text>
<text x="1183.13" y="2246.14" font-size="17.7" fill="#595959">8</text>
<text x="1183.13" y="2276.62" font-size="17.7" fill="#595959">6</text>
<text x="1183.1" y="2307.1" font-size="17.7" fill="#595959">5</text>
<text x="1198.44" y="2327.9" font-size="17.7" fill="#595959">1</text>
<text x="1280.42" y="2327.9" font-size="17.7" fill="#595959">2</text>
<text x="1362.21" y="2327.9" font-size="17.7" fill="#595959">3</text>
<text x="1443.95" y="2327.9" font-size="17.7" fill="#595959">4</text>
<text x="1525.58" y="2327.9" font-size="17.7" fill="#595959">6</text>
<text x="1602.13" y="2327.9" font-size="17.7" fill="#595959">10</text>
<text x="1683.91" y="2327.9" font-size="17.7" fill="#595959">16</text>
<text x="1765.86" y="2327.9" font-size="17.7" fill="#595959">25</text>
<text x="1847.82" y="2327.9" font-size="17.7" fill="#595959">40</text>
<text x="1929.36" y="2327.9" font-size="17.7" fill="#595959">63</text>
<text x="2006.51" y="2327.9" font-size="17.7" fill="#595959" textLength="28.36" lengthAdjust="spacingAndGlyphs">100</text>
<line x1="1482.06" y1="2302" x2="2021.1" y2="2037.54" stroke="#f5b96e" stroke-width="4.5"/>
<line x1="1359.09" y1="2302" x2="2021.1" y2="1999.91" stroke="#58a8da" stroke-width="4.5"/>
<line x1="1202" y1="2262.59" x2="2021.1" y2="1893.85" stroke="#4a6db0" stroke-width="4.5"/>
<line x1="1202" y1="2202.93" x2="2021.1" y2="1832.51" stroke="#f1b81e" stroke-width="4.5"/>
<line x1="1202" y1="2123.43" x2="1971.2" y2="1813.43" stroke="#8c969d" stroke-width="4.5"/>
<line x1="1202" y1="2102.92" x2="1890.5" y2="1813.79" stroke="#ed7d31" stroke-width="4.5"/>
<line x1="1202" y1="2074.29" x2="1852" y2="1813.07" stroke="#70ad47" stroke-width="4.5"/>
<text x="1205.67" y="1755.8" font-size="27.3" font-weight="bold" fill="#1d1d1b" textLength="453.67" lengthAdjust="spacingAndGlyphs" stroke="#1d1d1b" stroke-width="0.7">ASV150-ML - tryb pracy: wywiew</text>
<text x="1634.21" y="1798.7" font-size="17.9" font-weight="bold" fill="#111111" textLength="122.64" lengthAdjust="spacingAndGlyphs">Szczelina [mm]</text>
<text x="1813.97" y="1798.7" font-size="17.5" font-weight="bold" fill="#111111">+12</text>
<text x="1847.07" y="1798.7" font-size="15.3" font-weight="bold" fill="#111111" textLength="25.21" lengthAdjust="spacingAndGlyphs">mm</text>
<text x="1883.47" y="1798.7" font-size="17.5" font-weight="bold" fill="#111111">+9</text>
<text x="1906.67" y="1798.7" font-size="15.3" font-weight="bold" fill="#111111" textLength="25.21" lengthAdjust="spacingAndGlyphs">mm</text>
<text x="1957.57" y="1798.7" font-size="17.5" font-weight="bold" fill="#111111">+6</text>
<text x="1980.77" y="1798.7" font-size="15.3" font-weight="bold" fill="#111111" textLength="25.21" lengthAdjust="spacingAndGlyphs">mm</text>
<text x="2029.58" y="1839.7" font-size="17.5" font-weight="bold" fill="#111111">+3</text>
<text x="2053.67" y="1839.7" font-size="15.3" font-weight="bold" fill="#111111" textLength="25.21" lengthAdjust="spacingAndGlyphs">mm</text>
<text x="2039.89" y="1896.6" font-size="17.5" font-weight="bold" fill="#111111">0</text>
<text x="2053.67" y="1896.6" font-size="15.3" font-weight="bold" fill="#111111" textLength="25.21" lengthAdjust="spacingAndGlyphs">mm</text>
<text x="2033.97" y="2009.5" font-size="17.5" font-weight="bold" fill="#111111">-3</text>
<text x="2053.67" y="2009.5" font-size="15.3" font-weight="bold" fill="#111111" textLength="25.21" lengthAdjust="spacingAndGlyphs">mm</text>
<text x="2033.97" y="2044.6" font-size="17.5" font-weight="bold" fill="#111111">-6</text>
<text x="2053.67" y="2044.6" font-size="15.3" font-weight="bold" fill="#111111" textLength="25.21" lengthAdjust="spacingAndGlyphs">mm</text>
<text transform="translate(1149 2063.9) rotate(-90)" x="-1.56" y="0" font-size="21" fill="#1d1d1b" textLength="256.12" lengthAdjust="spacingAndGlyphs">Natężenie przepływu qv [m³/h]</text>
<text x="1841.81" y="2388.5" font-size="19.8" fill="#1d1d1b" textLength="181.44" lengthAdjust="spacingAndGlyphs">Strata ciśnienia Δp [Pa]</text>
</svg></body></html>
